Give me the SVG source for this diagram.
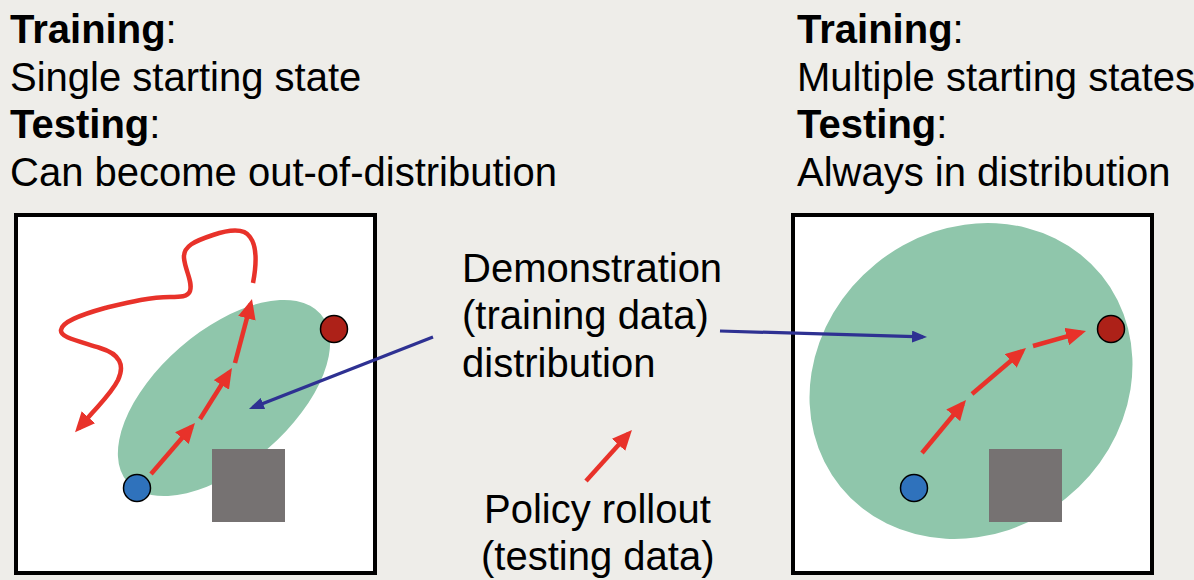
<svg xmlns="http://www.w3.org/2000/svg" width="1194" height="580" viewBox="0 0 1194 580">
<defs>
<style>
.t{font-family:"Liberation Sans",Arial,Helvetica,sans-serif;font-size:40px;fill:#000}
.b{font-weight:bold}
.box{fill:#fff;stroke:#000;stroke-width:4}
.dist{fill:#8fc6ab}
.obs{fill:#767272}
.start{fill:#2f72bc;stroke:#000;stroke-width:1.5}
.goal{fill:#ad2118;stroke:#000;stroke-width:1.5}
.red{fill:none;stroke:#e8322a;stroke-width:4.5;marker-end:url(#rh)}
.blue{fill:none;stroke:#2e3192;stroke-width:3.2;marker-end:url(#bh)}
</style>
<marker id="rh" markerUnits="userSpaceOnUse" viewBox="0 0 20 18" markerWidth="20" markerHeight="18" refX="15" refY="9" orient="auto">
<path d="M0,0 L20,9 L0,18 z" fill="#e8322a"/>
</marker>
<marker id="bh" markerUnits="userSpaceOnUse" viewBox="0 0 15 12" markerWidth="15" markerHeight="12" refX="11" refY="6" orient="auto">
<path d="M0,0 L15,6 L0,12 z" fill="#2e3192"/>
</marker>
</defs>
<rect x="0" y="0" width="1194" height="580" fill="#eeede9"/>

<g id="left-caption">
<text class="t" x="10" y="43"><tspan class="b">Training</tspan>:</text>
<text class="t" x="10" y="91">Single starting state</text>
<text class="t" x="10" y="138"><tspan class="b">Testing</tspan>:</text>
<text class="t" x="10" y="186">Can become out-of-distribution</text>
</g>
<g id="right-caption">
<text class="t" x="797" y="43"><tspan class="b">Training</tspan>:</text>
<text class="t" x="797" y="91">Multiple starting states</text>
<text class="t" x="797" y="138"><tspan class="b">Testing</tspan>:</text>
<text class="t" x="797" y="186">Always in distribution</text>
</g>

<g id="left-panel">
<rect class="box" x="16" y="215" width="359" height="358"/>
<ellipse class="dist" cx="224" cy="398" rx="128" ry="67" transform="rotate(-41 224 398)"/>
<rect class="obs" x="212" y="449" width="73" height="73"/>
<circle class="start" cx="137" cy="488" r="13.5"/>
<circle class="goal" cx="334" cy="329" r="13.5"/>
</g>

<g id="right-panel">
<rect class="box" x="793" y="215" width="359" height="358"/>
<ellipse class="dist" cx="971" cy="381" rx="168" ry="151" transform="rotate(-39 971 381)"/>
<rect class="obs" x="989" y="449" width="73" height="73"/>
<circle class="start" cx="914" cy="488" r="13.5"/>
<circle class="goal" cx="1111" cy="329" r="13.5"/>
</g>

<g id="legend-demo">
<text class="t" x="462" y="282">Demonstration</text>
<text class="t" x="462" y="329">(training data)</text>
<text class="t" x="462" y="377">distribution</text>
</g>
<g id="legend-policy">
<text class="t" x="484" y="523">Policy rollout</text>
<text class="t" x="481" y="570">(testing data)</text>
</g>

<g id="connectors">
<path class="red" d="M151,474 L191.7,426.8"/>
<path class="red" d="M200,419 L229.3,372.2"/>
<path class="red" d="M235,363 L250.7,303.8"/>
<path class="red" d="M253,283 C257,262 256,245 250,237 C244,228 228,230 213,235 C195,241 183,246 184,258 C185,270 193,282 190,291 C188,297 180,297 170,297 C150,297 130,302 105,308 C80,315 62,322 61,330 C60,337 75,340 100,348 C120,354 125,365 118,380 C112,392 100,404 93,412 L78.4,428.4"/>
<path class="red" d="M922,453 L962.8,403.8"/>
<path class="red" d="M972,394 L1022.2,351.2"/>
<path class="red" d="M1033,346 L1081.2,332.4"/>
<path class="red" d="M586,481 L628.6,433.7"/>
<path class="blue" d="M433,337 L252.7,407.5"/>
<path class="blue" d="M720,331 L923,336.9"/>
</g>
</svg>
